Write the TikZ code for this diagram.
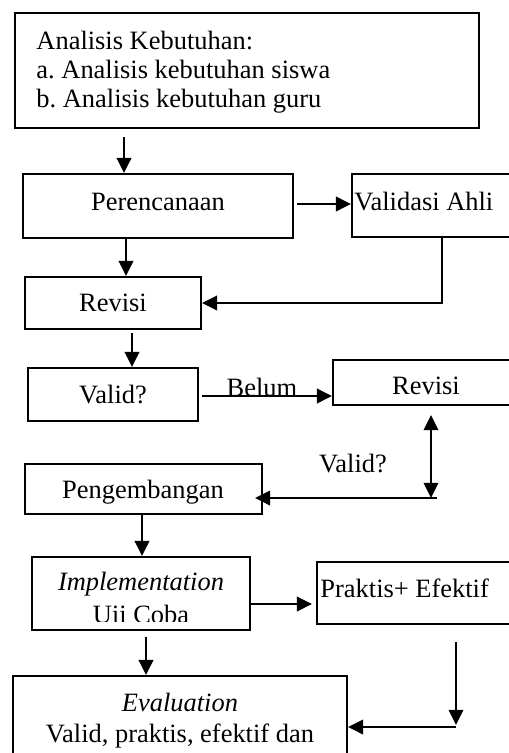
\documentclass[tikz,border=0pt]{standalone}
\usepackage{fontspec}
\setmainfont{Liberation Serif}
\usetikzlibrary{arrows.meta,fit}
\begin{document}
\frenchspacing
\begin{tikzpicture}[x=0.45pt,y=-0.45pt,
  box/.style={draw,line width=0.85pt,inner sep=0pt,rectangle},
  txt/.style={inner sep=0pt,anchor=base,font=\fontsize{11.9}{14}\selectfont},
  tipa/.style={line width=1pt,-{Triangle[length=6.8pt,width=6.5pt]}},
  tipb/.style={line width=1pt,{Triangle[length=6.8pt,width=6.5pt]}-{Triangle[length=6.8pt,width=6.5pt]}}]
\clip (0,0) rectangle (509,753);
% boxes
\node[box,fit={(15,13) (479,128)}] (A) {};
\node[box,fit={(23,174) (293,238)}] (P) {};
\node[box,fit={(352,174) (530,237)}] (V) {};
\node[box,fit={(25,277) (201,329)}] (R1) {};
\node[box,fit={(28,368) (198,421)}] (Q) {};
\node[box,fit={(333,360) (530,405)}] (R2) {};
\node[box,fit={(25,464) (262,514)}] (G) {};
\node[box,fit={(32,557) (250,630)}] (I) {};
\node[box,fit={(317,562) (530,624)}] (PE) {};
\node[box,fit={(13,676) (347,790)}] (E) {};
% texts
\node[txt,anchor=base west] (tA1) at (36,50) {Analisis Kebutuhan:};
\node[txt,anchor=base west] (tA2) at (36,79) {a. Analisis kebutuhan siswa};
\node[txt,anchor=base west] (tA3) at (36,108) {b. Analisis kebutuhan guru};
\node[txt] (tP) at (158,211) {Perencanaan};
\node[txt,anchor=base west] (tV) at (354,211) {Validasi Ahli};
\node[txt] (tR1) at (113,311) {Revisi};
\node[txt] (tQ) at (113,403) {Valid?};
\node[txt] (tR2) at (426,394) {Revisi};
\node[txt] (tG) at (143,498) {Pengembangan};
\node[txt] (tI1) at (141,590) {\itshape Implementation};
\begin{scope}
\clip (32,557) rectangle (250,621);
\node[txt] (tI2) at (141,623) {Uji Coba};
\end{scope}
\node[txt,anchor=base west] (tPE) at (320,597) {Praktis+ Efektif};
\node[txt] (tE1) at (180,711) {\itshape Evaluation};
\node[txt] (tE2) at (180,742) {Valid, praktis, efektif dan};
% coordinates
\coordinate (a1) at (124,137);
\coordinate (c1) at (126,0);
\coordinate (b1) at (297,204);
\coordinate (k1) at (442,303);
\coordinate (d1) at (132,333);
\coordinate (e1) at (202,396);
\coordinate (f1) at (431,415);
\coordinate (f2) at (431,498);
\coordinate (g1) at (437,498);
\coordinate (h1) at (142,0);
\coordinate (i1) at (0,604);
\coordinate (j1) at (146,637);
\coordinate (m1) at (456,642);
\coordinate (m2) at (456,725);
\coordinate (m3) at (456,727);
% connectors
\draw[tipa] (a1) -- (a1 |- P.north);
\draw[tipa] (P.south -| c1) -- (c1 |- R1.north);
\draw[tipa] (b1) -- (b1 -| V.west);
\draw[tipa] (V.south -| k1) -- (k1) -- (k1 -| R1.east);
\draw[tipa] (d1) -- (d1 |- Q.north);
\draw[tipa] (e1) -- (e1 -| R2.west);
\node[txt] (lB) at (262,396) {Belum};
\draw[tipb] (f1) -- (f2);
\node[txt] (lV) at (353,472) {Valid?};
\draw[tipa,shorten >=-3.6pt] (g1) -- (g1 -| G.east);
\draw[tipa] (G.south -| h1) -- (h1 |- I.north);
\draw[tipa,shorten >=1.8pt] (I.east |- i1) -- (i1 -| PE.west);
\draw[tipa] (j1) -- (j1 |- E.north);
\draw[tipa] (m1) -- (m2);
\draw[tipa] (m3) -- (m3 -| E.east);
\end{tikzpicture}
\end{document}
